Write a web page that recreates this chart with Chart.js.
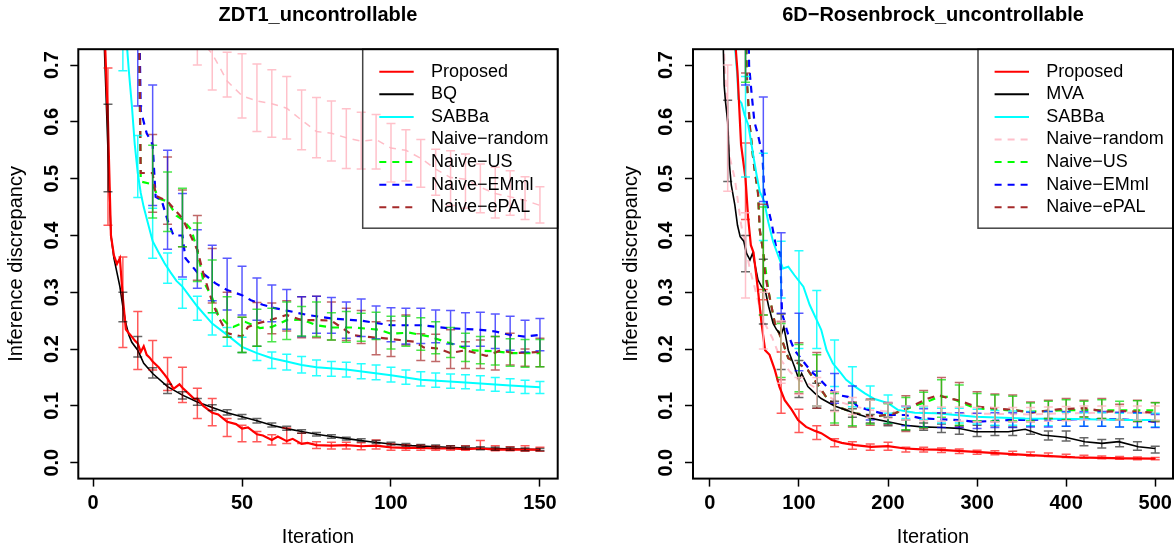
<!DOCTYPE html>
<html>
<head>
<meta charset="utf-8">
<script src="https://cdn.jsdelivr.net/npm/chart.js@4.4.1/dist/chart.umd.min.js"></script>
<style>
  body { margin: 0; background: #fff; }
  .panel { position: absolute; top: 0; }
</style>
</head>
<body>
<div class="panel" style="left:0"><canvas id="left" width="587" height="545"></canvas></div>
<div class="panel" style="left:587px"><canvas id="right" width="588" height="545"></canvas></div>
<script>
// ---- shared ticks ----
const yTicks = [0, 0.1, 0.2, 0.3, 0.4, 0.5, 0.6, 0.7];
const zdtTicks = [0, 50, 100, 150];
const rosTicks = [0, 100, 200, 300, 400, 500];

// ---- ZDT1 panel: mean curves ----
const zdtRedX = [1,2,3,4,5,6,7,8,9,10,11,12,13,14,15,16,17,18,19,20,22,24,25,27,29,30,32,34,35,37,40,42,45,48,50,52,55,57,60,62,65,67,70,72,75,80,85,90,95,100,105,110,115,120,125,130,135,140,145,150];
const zdtRedY = [1.2,1.0,0.85,0.74,0.6,0.4,0.365,0.35,0.36,0.29,0.235,0.228,0.222,0.215,0.21,0.195,0.205,0.19,0.185,0.178,0.168,0.155,0.148,0.13,0.138,0.132,0.122,0.112,0.113,0.1,0.088,0.085,0.072,0.068,0.06,0.062,0.05,0.048,0.04,0.046,0.038,0.042,0.033,0.035,0.031,0.03,0.031,0.029,0.03,0.027,0.026,0.026,0.025,0.025,0.024,0.025,0.023,0.023,0.023,0.023];
const zdtBqX = [1,2,3,4,5,6,7,8,9,10,11,12,13,15,17,20,25,30,35,40,45,50,55,60,65,70,75,80,87,93,100,107,115,125,135,150];
const zdtBqY = [1.3,1.0,0.85,0.7,0.55,0.4,0.36,0.335,0.31,0.275,0.245,0.225,0.212,0.198,0.175,0.157,0.134,0.119,0.107,0.097,0.088,0.081,0.074,0.066,0.06,0.055,0.05,0.046,0.041,0.037,0.033,0.03,0.028,0.026,0.025,0.023];
const zdtSabX = [1,5,10,11,12,13,14,15,16,17,18,20,22,24,26,28,30,35,40,45,50,55,60,65,70,75,85,100,110,125,140,150];
const zdtSabY = [1.5,1.2,0.85,0.76,0.69,0.63,0.56,0.51,0.475,0.45,0.43,0.39,0.37,0.351,0.335,0.32,0.31,0.275,0.245,0.225,0.204,0.193,0.184,0.178,0.172,0.168,0.164,0.154,0.146,0.141,0.136,0.133];
const zdtRandX = [15,30,35,40,45,50,55,60,65,70,75,80,85,90,95,100,105,110,115,120,125,130,135,140,145,150];
const zdtRandY = [0.95,0.78,0.75,0.72,0.672,0.646,0.637,0.632,0.624,0.603,0.583,0.58,0.572,0.566,0.569,0.554,0.55,0.536,0.517,0.502,0.499,0.485,0.474,0.468,0.462,0.453];
const zdtUsX = [15,16,20,22,25,28,30,33,35,37,40,42,45,47,51,56,60,65,70,75,80,87,92,96,100,106,113,120,127,135,140,150];
const zdtUsY = [0.95,0.495,0.49,0.465,0.46,0.435,0.428,0.41,0.374,0.32,0.29,0.26,0.245,0.239,0.248,0.237,0.239,0.251,0.252,0.242,0.238,0.238,0.236,0.234,0.227,0.229,0.222,0.21,0.198,0.196,0.193,0.193];
const zdtEmX = [15,16,18,20,21,23,25,27,30,31,35,37,41,45,50,53,57,61,64,72,76,80,90,100,110,119,130,135,140,145,150];
const zdtEmY = [0.95,0.62,0.58,0.56,0.468,0.462,0.427,0.4,0.4,0.36,0.335,0.333,0.316,0.304,0.295,0.286,0.278,0.272,0.269,0.26,0.257,0.254,0.25,0.242,0.242,0.237,0.234,0.231,0.225,0.222,0.225];
const zdtPalX = [15,16,20,21,25,30,35,37,40,42,45,50,52,55,60,65,70,76,80,87,91,98,103,108,111,116,120,125,132,137,141,150];
const zdtPalY = [0.95,0.51,0.51,0.47,0.46,0.43,0.375,0.333,0.283,0.257,0.228,0.222,0.239,0.245,0.252,0.26,0.251,0.251,0.25,0.225,0.222,0.219,0.216,0.213,0.203,0.201,0.193,0.198,0.188,0.198,0.193,0.195];

// ---- ZDT1 panel: error bars every 5 iterations ----
const zdtBarX = [5,10,15,20,25,30,35,40,45,50,55,60,65,70,75,80,85,90,95,100,105,110,115,120,125,130,135,140,145,150];
const zdtRedLo = [0.418,0.203,0.164,0.163,0.127,0.106,0.078,0.065,0.046,0.037,0.037,0.031,0.034,0.034,0.025,0.024,0.024,0.023,0.024,0.022,0.022,0.022,0.022,0.022,0.022,0.024,0.021,0.021,0.02,0.02];
const zdtRedHi = [0.695,0.362,0.266,0.215,0.185,0.168,0.131,0.113,0.078,0.066,0.055,0.049,0.061,0.052,0.037,0.036,0.036,0.035,0.04,0.033,0.031,0.031,0.03,0.03,0.03,0.039,0.03,0.028,0.03,0.027];
const zdtBqLo = [0.477,0.248,0.186,0.149,0.122,0.112,0.101,0.092,0.084,0.077,0.07,0.063,0.057,0.052,0.047,0.043,0.04,0.037,0.034,0.031,0.029,0.027,0.026,0.025,0.024,0.023,0.022,0.022,0.021,0.021];
const zdtBqHi = [0.631,0.3,0.222,0.167,0.138,0.125,0.113,0.102,0.093,0.085,0.078,0.07,0.064,0.058,0.053,0.049,0.045,0.042,0.039,0.036,0.034,0.032,0.031,0.03,0.029,0.028,0.027,0.027,0.026,0.025];
const zdtSabLo = [null,0.69,0.467,0.36,0.316,0.272,0.251,0.225,0.205,0.194,0.18,0.166,0.163,0.158,0.153,0.152,0.151,0.148,0.146,0.142,0.138,0.135,0.133,0.131,0.13,0.128,0.126,0.124,0.122,0.122];
const zdtSabHi = [null,1.0,0.576,0.448,0.369,0.323,0.293,0.264,0.238,0.221,0.205,0.195,0.191,0.187,0.181,0.178,0.177,0.174,0.172,0.168,0.163,0.16,0.158,0.156,0.155,0.153,0.15,0.148,0.145,0.143];
const zdtRandLo = [null,null,null,null,null,null,0.7,0.656,0.644,0.607,0.583,0.573,0.57,0.551,0.537,0.531,0.518,0.517,0.517,0.494,0.496,0.485,0.471,0.4527,0.448,0.44,0.431,0.4355,0.428,0.422];
const zdtRandHi = [null,null,null,null,null,null,0.8,0.78,0.7225,0.72,0.702,0.692,0.68,0.656,0.643,0.637,0.623,0.617,0.613,0.597,0.586,0.569,0.552,0.549,0.5435,0.526,0.52,0.514,0.5035,0.486];
const zdtUsLo = [null,null,null,0.431,0.407,0.38,0.319,0.264,0.221,0.194,0.205,0.213,0.217,0.223,0.222,0.216,0.212,0.214,0.217,0.2,0.205,0.198,0.192,0.185,0.178,0.174,0.172,0.17,0.168,0.169];
const zdtUsHi = [null,null,null,0.559,0.512,0.483,0.422,0.357,0.292,0.256,0.27,0.272,0.283,0.275,0.283,0.264,0.266,0.263,0.265,0.258,0.258,0.255,0.248,0.238,0.228,0.222,0.222,0.218,0.217,0.217];
const zdtEmLo = [null,null,0.628,0.453,0.376,0.327,0.307,0.285,0.269,0.26,0.251,0.248,0.235,0.222,0.228,0.228,0.219,0.222,0.218,0.213,0.209,0.21,0.211,0.209,0.205,0.205,0.201,0.198,0.195,0.197];
const zdtEmHi = [null,null,0.95,0.665,0.55,0.474,0.41,0.383,0.36,0.346,0.325,0.313,0.305,0.292,0.293,0.291,0.283,0.288,0.276,0.273,0.272,0.272,0.269,0.268,0.264,0.265,0.262,0.258,0.251,0.254];
const zdtPalLo = [null,null,null,0.441,0.42,0.38,0.321,0.281,0.221,0.194,0.205,0.227,0.232,0.22,0.22,0.216,0.215,0.21,0.19,0.187,0.207,0.18,0.178,0.166,0.166,0.166,0.163,0.172,0.17,0.169];
const zdtPalHi = [null,null,null,0.578,0.538,0.48,0.435,0.377,0.3,0.256,0.282,0.281,0.285,0.292,0.293,0.283,0.272,0.268,0.248,0.25,0.26,0.227,0.226,0.234,0.213,0.216,0.222,0.228,0.2,0.219];

// ---- Rosenbrock panel: mean curves ----
const rosRedX = [1,20,28,31,35,40,43,46,49,54,58,62,67,73,78,84,92,99,108,118,125,137,148,163,181,200,219,238,254,298,354,410,466,500];
const rosRedY = [1.3,0.95,0.75,0.688,0.56,0.5,0.43,0.383,0.37,0.304,0.245,0.198,0.19,0.163,0.134,0.11,0.093,0.075,0.063,0.056,0.052,0.04,0.035,0.031,0.028,0.029,0.025,0.0235,0.023,0.019,0.0136,0.0095,0.0077,0.007];
const rosMvaX = [1,15,16,17.5,20,22,24,28,31,34,38,41,45,48,54,58,62,66,71,75,80,83,88,95,100,103,110,118,125,140,163,181,200,219,238,260,279,298,335,354,373,399,421,440,459,481,500];
const rosMvaY = [1.2,0.735,0.665,0.636,0.6,0.524,0.489,0.454,0.418,0.398,0.39,0.369,0.357,0.369,0.322,0.31,0.304,0.275,0.245,0.234,0.225,0.239,0.198,0.169,0.146,0.157,0.134,0.122,0.113,0.1,0.087,0.078,0.072,0.066,0.063,0.062,0.0605,0.0546,0.0546,0.0588,0.0488,0.0447,0.037,0.034,0.037,0.028,0.025];
const rosSabX = [1,28,31,32,35.5,39,43,45,48.6,52.4,56,61,65.5,71,77,82,88,95,105,112,120,125,131,138,146,153,163,174,185,200,211,230,254,298,354,410,466,500];
const rosSabY = [1.3,0.735,0.677,0.64,0.633,0.612,0.595,0.577,0.542,0.507,0.477,0.46,0.424,0.389,0.363,0.342,0.345,0.33,0.31,0.278,0.251,0.234,0.198,0.175,0.16,0.146,0.134,0.122,0.112,0.105,0.093,0.088,0.087,0.081,0.078,0.077,0.075,0.075];
const rosRandX = [1,15,20,22,28,35,40,45,50,55,60,65,70,80,90,100,110,120,140,160,180,200,240,280,320,360,400,440,480,500];
const rosRandY = [1.2,0.75,0.6,0.54,0.5,0.42,0.38,0.34,0.31,0.28,0.25,0.235,0.22,0.18,0.16,0.145,0.14,0.13,0.11,0.1,0.093,0.09,0.088,0.087,0.086,0.085,0.087,0.088,0.088,0.088];
const rosUsX = [1,40,42,45,49,54,56,60,66,73,81,88,99,110,120,133,148,163,185,208,230,248,257,268,279,298,317,339,362,391,421,444,466,500];
const rosUsY = [1.3,0.8,0.66,0.59,0.53,0.475,0.41,0.37,0.3,0.245,0.216,0.184,0.175,0.163,0.14,0.11,0.096,0.087,0.081,0.087,0.1,0.11,0.116,0.116,0.108,0.096,0.094,0.092,0.09,0.092,0.093,0.092,0.092,0.092];
const rosEmX = [1,43,44,47,50,54,59,61,69,75,79,81,88,95,105,114,121,133,144,155,166,178,200,219,238,279,298,335,391,428,466,500];
const rosEmY = [1.3,0.8,0.7,0.647,0.6,0.577,0.542,0.477,0.424,0.374,0.37,0.263,0.225,0.198,0.178,0.16,0.151,0.131,0.119,0.116,0.099,0.093,0.084,0.084,0.078,0.075,0.072,0.075,0.076,0.077,0.076,0.072];
const rosPalX = [1,40,41,42,45,49,54,56,60,62,66,73,81,88,99,110,120,133,148,163,185,208,230,245,257,268,279,298,317,339,362,391,421,444,466,500];
const rosPalY = [1.3,0.8,0.7,0.66,0.59,0.53,0.475,0.41,0.37,0.33,0.3,0.245,0.216,0.184,0.175,0.163,0.14,0.11,0.096,0.087,0.081,0.087,0.102,0.113,0.119,0.113,0.11,0.099,0.096,0.093,0.088,0.094,0.096,0.09,0.091,0.088];

// ---- Rosenbrock panel: error bars every 20 iterations ----
const rosBarX = [20,40,60,80,100,120,140,160,180,200,220,240,260,280,300,320,340,360,380,400,420,440,460,480,500];
const rosRedLo = [null,0.428,0.287,0.087,0.053,0.041,0.028,0.0235,0.022,0.022,0.019,0.019,0.018,0.016,0.015,0.014,0.013,0.012,0.011,0.009,0.008,0.007,0.006,0.005,0.005];
const rosRedHi = [null,0.563,0.305,0.195,0.094,0.065,0.042,0.037,0.033,0.036,0.027,0.027,0.026,0.024,0.022,0.021,0.02,0.019,0.017,0.015,0.013,0.012,0.011,0.01,0.009];
const rosMvaLo = [0.495,0.336,0.244,0.164,0.115,0.096,0.092,0.08,0.07,0.065,0.057,0.057,0.053,0.05,0.046,0.048,0.048,0.05,0.04,0.038,0.03,0.026,0.028,0.022,0.017];
const rosMvaHi = [0.638,0.4,0.358,0.262,0.18,0.14,0.108,0.095,0.085,0.08,0.075,0.07,0.068,0.065,0.066,0.065,0.063,0.065,0.056,0.056,0.044,0.041,0.042,0.037,0.029];
const rosSabLo = [null,0.503,0.391,0.29,0.201,0.201,0.134,0.0986,0.096,0.087,0.078,0.076,0.07,0.07,0.068,0.066,0.066,0.065,0.065,0.064,0.064,0.064,0.063,0.063,0.063];
const rosSabHi = [null,0.68,0.545,0.39,0.373,0.303,0.216,0.169,0.135,0.119,0.098,0.098,0.096,0.096,0.094,0.092,0.091,0.09,0.09,0.089,0.088,0.088,0.087,0.087,0.087];
const rosRandLo = [0.478,0.29,0.2,0.14,0.12,0.1,0.09,0.085,0.08,0.078,0.075,0.074,0.073,0.073,0.072,0.072,0.072,0.072,0.073,0.074,0.075,0.075,0.075,0.075,0.075];
const rosRandHi = [0.7,0.44,0.3,0.25,0.15,0.15,0.125,0.115,0.11,0.105,0.1,0.1,0.098,0.098,0.097,0.097,0.097,0.097,0.098,0.099,0.1,0.1,0.1,0.1,0.1];
const rosUsLo = [null,0.67,0.26,0.15,0.125,0.1,0.07,0.065,0.068,0.069,0.058,0.062,0.08,0.066,0.074,0.074,0.074,0.074,0.078,0.076,0.08,0.078,0.076,0.073,0.074];
const rosUsHi = [null,0.93,0.45,0.245,0.208,0.19,0.122,0.105,0.11,0.104,0.115,0.124,0.146,0.137,0.122,0.119,0.117,0.105,0.108,0.111,0.108,0.111,0.108,0.109,0.1056];
const rosEmLo = [null,0.665,0.46,0.263,0.162,0.1,0.1046,0.1046,0.075,0.069,0.065,0.063,0.062,0.062,0.06,0.062,0.062,0.063,0.063,0.064,0.064,0.064,0.063,0.062,0.062];
const rosEmHi = [null,0.95,0.644,0.405,0.263,0.161,0.157,0.135,0.11,0.1046,0.1,0.095,0.088,0.088,0.087,0.088,0.088,0.089,0.09,0.09,0.09,0.09,0.089,0.088,0.085];
const rosPalLo = [null,0.686,0.26,0.146,0.122,0.096,0.066,0.063,0.066,0.067,0.055,0.06,0.087,0.063,0.072,0.072,0.072,0.072,0.078,0.075,0.081,0.078,0.075,0.072,0.072];
const rosPalHi = [null,0.95,0.455,0.248,0.211,0.194,0.125,0.107,0.112,0.106,0.118,0.127,0.15,0.141,0.125,0.121,0.119,0.107,0.11,0.113,0.11,0.113,0.103,0.11,0.106];

const FONT = '"Liberation Sans", Arial, Helvetica, sans-serif';
Chart.defaults.font.family = FONT;
Chart.defaults.color = '#000';

const DASH = [7, 6];

function series(label, xs, ys, color, width, dash, barX, lo, hi, barColor) {
    return {
        label: label,
        data: xs.map((x, i) => ({ x: x, y: ys[i] })),
        borderColor: color,
        borderWidth: width,
        borderDash: dash || [],
        pointRadius: 0,
        tension: 0,
        fill: false,
        barX: barX, barLo: lo, barHi: hi, barColor: barColor
    };
}

// error bars with flat caps, drawn through the chart's own scales
const errorBars = {
    id: 'errorBars',
    afterDatasetsDraw(chart) {
        const { ctx, chartArea: a, scales: { x, y } } = chart;
        ctx.save();
        ctx.beginPath();
        ctx.rect(a.left, a.top, a.width, a.height);
        ctx.clip();
        ctx.setLineDash([]);
        ctx.lineWidth = 1.5;
        chart.data.datasets.forEach(ds => {
            if (!ds.barLo) return;
            ctx.strokeStyle = ds.barColor;
            ds.barX.forEach((bx, i) => {
                const lo = ds.barLo[i], hi = ds.barHi[i];
                if (lo == null || hi == null) return;
                const px = x.getPixelForValue(bx);
                const p1 = y.getPixelForValue(lo);
                const p2 = y.getPixelForValue(hi);
                ctx.beginPath();
                ctx.moveTo(px, p1); ctx.lineTo(px, p2);
                ctx.moveTo(px - 4.5, p1); ctx.lineTo(px + 4.5, p1);
                ctx.moveTo(px - 4.5, p2); ctx.lineTo(px + 4.5, p2);
                ctx.stroke();
            });
        });
        ctx.restore();
    }
};

// R style box legend (transparent) and the plot frame
const frameLegend = {
    id: 'frameLegend',
    afterDraw(chart, args, opts) {
        const { ctx, chartArea: a } = chart;
        const w = 195, h = 179;
        const bx = a.right - w, by = a.top;
        ctx.save();
        ctx.strokeStyle = '#444';
        ctx.lineWidth = 1.5;
        ctx.strokeRect(bx, by, w, h);
        ctx.font = '18px ' + FONT;
        ctx.textBaseline = 'middle';
        ctx.textAlign = 'left';
        opts.items.forEach((it, i) => {
            const yy = by + 22.5 + i * 22.6;
            if (it.color) {
                ctx.strokeStyle = it.color;
                ctx.lineWidth = 2;
                ctx.setLineDash(it.dash ? DASH : []);
                ctx.beginPath();
                ctx.moveTo(bx + 16.6, yy);
                ctx.lineTo(bx + 51, yy);
                ctx.stroke();
            }
            ctx.setLineDash([]);
            ctx.fillStyle = '#000';
            ctx.fillText(it.label, bx + 68.3, yy);
        });
        ctx.strokeStyle = '#000';
        ctx.lineWidth = 2;
        ctx.strokeRect(a.left, a.top, a.width, a.height);
        ctx.restore();
    }
};

const xTickFont = { size: 20, weight: 'bold', lineHeight: 1.9 };
const yTickFont = { size: 20, weight: 'bold', lineHeight: 1 };
const gridOpts = { drawOnChartArea: false, drawTicks: true, tickLength: 8, tickColor: '#000', tickWidth: 1.5 };

function makeChart(id, title, datasets, legendItems, xMin, xMax, xTicks, padLeft, padRight) {
    return new Chart(document.getElementById(id), {
        type: 'line',
        data: { datasets: datasets },
        plugins: [errorBars, frameLegend],
        options: {
            responsive: false,
            animation: false,
            events: [],
            layout: { autoPadding: false, padding: { left: padLeft, right: padRight, top: 0, bottom: 0 } },
            plugins: {
                legend: { display: false },
                tooltip: { enabled: false },
                title: {
                    display: true,
                    text: title,
                    fullSize: false,
                    font: { size: 20, weight: 'bold', lineHeight: 1 },
                    color: '#000',
                    padding: { top: 5.7, bottom: 23.5 }
                },
                frameLegend: { items: legendItems }
            },
            scales: {
                x: {
                    type: 'linear',
                    min: xMin,
                    max: xMax,
                    afterBuildTicks: s => { s.ticks = xTicks.map(v => ({ value: v })); },
                    afterFit: s => { s.height = 66.4; },
                    grid: gridOpts,
                    border: { display: false },
                    ticks: { padding: -2, autoSkip: false, maxRotation: 0, font: xTickFont, color: '#000', callback: v => String(v) },
                    title: { display: true, text: 'Iteration', font: { size: 20, lineHeight: 1 }, color: '#000', padding: { top: 0, bottom: -2 } }
                },
                y: {
                    type: 'linear',
                    min: -0.028,
                    max: 0.728,
                    afterBuildTicks: s => { s.ticks = yTicks.map(v => ({ value: v })); },
                    afterFit: s => { s.width = 78.3; },
                    grid: gridOpts,
                    border: { display: false },
                    ticks: { minRotation: 90, maxRotation: 90, crossAlign: 'center', padding: 4.4, autoSkip: false, font: yTickFont, color: '#000', callback: v => v.toFixed(1) },
                    title: { display: true, text: 'Inference discrepancy', font: { size: 20, lineHeight: 1 }, color: '#000', padding: { top: 6.8, bottom: 0 } }
                }
            }
        }
    });
}

const RED = '#ff0000', BLACK = '#000000', CYAN = '#00ffff', PINK = '#ffc0cb', GREEN = '#00ff00', BLUE = '#0000ff', BROWN = '#a52a2a';
const barRed = 'rgba(255,0,0,0.65)', barBlack = 'rgba(0,0,0,0.6)', barCyan = 'rgba(0,255,255,0.85)', barPink = 'rgba(255,182,193,0.85)',
      barGreen = 'rgba(0,220,0,0.7)', barBlue = 'rgba(0,0,255,0.65)', barBrown = 'rgba(165,42,42,0.7)';

makeChart('left', 'ZDT1_uncontrollable', [
    series('Proposed', zdtRedX, zdtRedY, RED, 2.2, null, zdtBarX, zdtRedLo, zdtRedHi, barRed),
    series('BQ', zdtBqX, zdtBqY, BLACK, 1.6, null, zdtBarX, zdtBqLo, zdtBqHi, barBlack),
    series('SABBa', zdtSabX, zdtSabY, CYAN, 2, null, zdtBarX, zdtSabLo, zdtSabHi, barCyan),
    series('Naive−ePAL', zdtPalX, zdtPalY, BROWN, 2.2, DASH, zdtBarX, zdtPalLo, zdtPalHi, barBrown),
    series('Naive−EMml', zdtEmX, zdtEmY, BLUE, 2.2, DASH, zdtBarX, zdtEmLo, zdtEmHi, barBlue),
    series('Naive−US', zdtUsX, zdtUsY, GREEN, 2.2, DASH, zdtBarX, zdtUsLo, zdtUsHi, barGreen),
    series('Naive−random', zdtRandX, zdtRandY, 'rgba(255,182,193,0.9)', 1.5, DASH, zdtBarX, zdtRandLo, zdtRandHi, barPink)
], [
    { label: 'Proposed', color: RED },
    { label: 'BQ', color: BLACK },
    { label: 'SABBa', color: CYAN },
    { label: 'Naive−random' },
    { label: 'Naive−US', color: GREEN, dash: true },
    { label: 'Naive−EMml', color: BLUE, dash: true },
    { label: 'Naive−ePAL', color: BROWN, dash: true }
], -4.96, 155.96, zdtTicks, 0, 29.3);

makeChart('right', '6D−Rosenbrock_uncontrollable', [
    series('Proposed', rosRedX, rosRedY, RED, 2.2, null, rosBarX, rosRedLo, rosRedHi, barRed),
    series('MVA', rosMvaX, rosMvaY, BLACK, 1.6, null, rosBarX, rosMvaLo, rosMvaHi, barBlack),
    series('SABBa', rosSabX, rosSabY, CYAN, 2, null, rosBarX, rosSabLo, rosSabHi, barCyan),
    series('Naive−ePAL', rosPalX, rosPalY, BROWN, 2.2, DASH, rosBarX, rosPalLo, rosPalHi, barBrown),
    series('Naive−EMml', rosEmX, rosEmY, BLUE, 2.2, DASH, rosBarX, rosEmLo, rosEmHi, barBlue),
    series('Naive−US', rosUsX, rosUsY, GREEN, 2.2, DASH, rosBarX, rosUsLo, rosUsHi, barGreen),
    series('Naive−random', rosRandX, rosRandY, PINK, 2, DASH, rosBarX, rosRandLo, rosRandHi, barPink)
], [
    { label: 'Proposed', color: RED },
    { label: 'MVA', color: BLACK },
    { label: 'SABBa', color: CYAN },
    { label: 'Naive−random', color: PINK, dash: true },
    { label: 'Naive−US', color: GREEN, dash: true },
    { label: 'Naive−EMml', color: BLUE, dash: true },
    { label: 'Naive−ePAL', color: BROWN, dash: true }
], -18.96, 519.96, rosTicks, 27.7, 2);
</script>
</body>
</html>
